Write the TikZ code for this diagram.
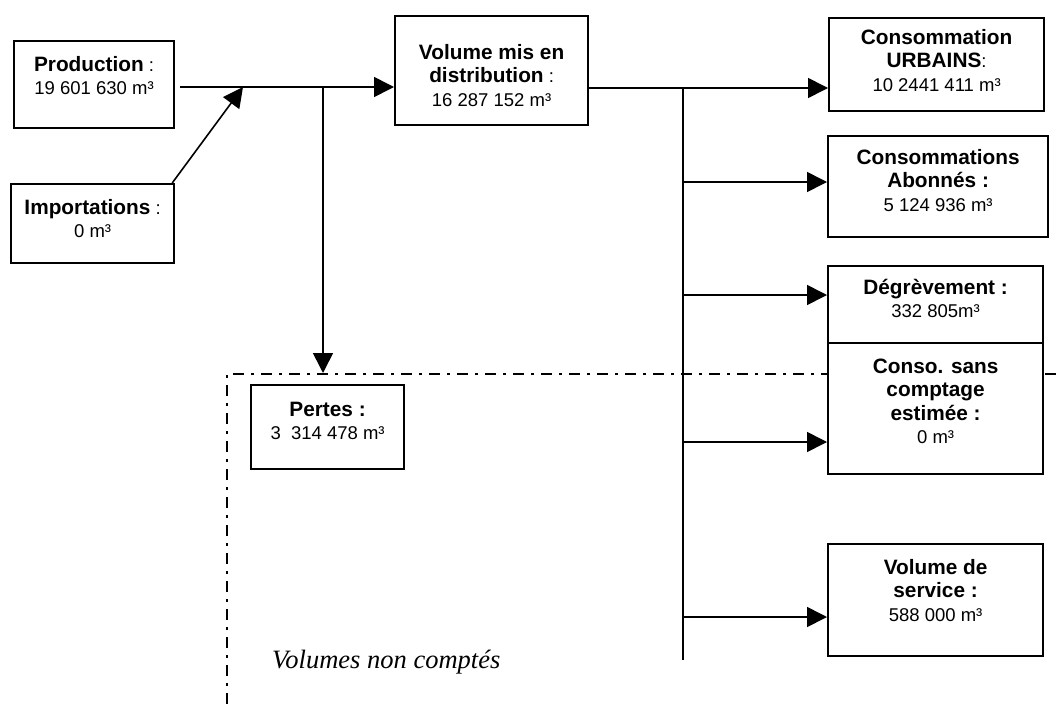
\documentclass[tikz,border=0pt]{standalone}
\usepackage{fontspec}
\setmainfont{Liberation Sans}
\newfontfamily\serifit{Liberation Serif}
\usetikzlibrary{arrows.meta}
\newcommand{\boxtext}[4]{\begin{minipage}[t][#2][t]{#1}\centering\fontsize{18.5}{23.5}\selectfont\rule{0pt}{#3}#4\par\end{minipage}}
\newcommand{\bl}[1]{{\fontsize{20.8}{23.5}\selectfont\bfseries #1}}
\tikzset{
  box/.style={draw, line width=2.2pt, inner sep=0pt, fill=white, anchor=north west},
  conn/.style={line width=1.6pt},
  arr/.style={conn, -{Triangle[length=20pt,width=20pt]}},
  limit/.style={line width=2pt, dash pattern=on 11pt off 7pt on 3pt off 7pt}
}
\begin{document}
\begin{tikzpicture}[x=1pt,y=-1pt]
\useasboundingbox (0,0) rectangle (1056,704);
% dash-dot frame of uncounted volumes
\coordinate (fb) at (227,704);
\coordinate (fc) at (227,374);
\coordinate (fr) at (1056,374);
\draw[limit] (fb) -- (fc) -- (fr);
\node[anchor=base west, inner sep=0pt] (vnc) at (272,668) {\fontsize{26.5}{30}\selectfont\serifit\itshape Volumes non compt\'es};
% junction coordinates
\coordinate (jA) at (243,87);
\coordinate (jB) at (323,87);
\coordinate (jP) at (323,373);
\coordinate (t0) at (683,88);
\coordinate (t1) at (683,182);
\coordinate (t2) at (683,295);
\coordinate (t3) at (683,442);
\coordinate (t4) at (683,617);
\coordinate (tend) at (683,660);
% boxes
\node[box] (prod) at (13,40) {\boxtext{160pt}{87pt}{30pt}{\bl{Production} :\\19 601 630 m³}};
\node[box] (imp) at (10,183) {\boxtext{163pt}{79pt}{30pt}{\bl{Importations} :\\0 m³}};
\node[box] (vol) at (394,15) {\boxtext{193pt}{109pt}{43pt}{\bl{Volume mis en}\\\bl{distribution} :\\16 287 152 m³}};
\node[box] (urb) at (828,17) {\boxtext{215pt}{93pt}{26pt}{\bl{Consommation}\\\bl{URBAINS}:\\10 2441 411 m³}};
\node[box] (abo) at (827,135) {\boxtext{220pt}{101pt}{28pt}{\bl{Consommations}\\\bl{Abonnés :}\\5 124 936 m³}};
\node[box] (deg) at (827,265) {\boxtext{215pt}{90pt}{28pt}{\bl{Dégrèvement :}\\332 805m³}};
\node[box] (conso) at (827,342) {\boxtext{215pt}{131pt}{30pt}{\bl{Conso. sans}\\\bl{comptage}\\\bl{estimée :}\\0 m³}};
\node[box] (serv) at (827,543) {\boxtext{215pt}{112pt}{30pt}{\bl{Volume de}\\\bl{service :}\\588 000 m³}};
\node[box] (pertes) at (250,384) {\boxtext{153pt}{84pt}{31pt}{\bl{Pertes :}\\3\ \ 314 478 m³}};
% connectors
\draw[arr] ([xshift=5pt]prod.east |- jA) -- (vol.west |- jA);
\draw[arr] ([xshift=-3pt]imp.north east) -- (jA);
\draw[arr] (jB) -- (jP);
\draw[arr] (vol.east |- t0) -- (urb.west |- t0);
\draw[conn] (t0) -- (tend);
\draw[arr] (t1) -- (abo.west |- t1);
\draw[arr] (t2) -- (deg.west |- t2);
\draw[arr] (t3) -- (conso.west |- t3);
\draw[arr] (t4) -- (serv.west |- t4);
\end{tikzpicture}
\end{document}
